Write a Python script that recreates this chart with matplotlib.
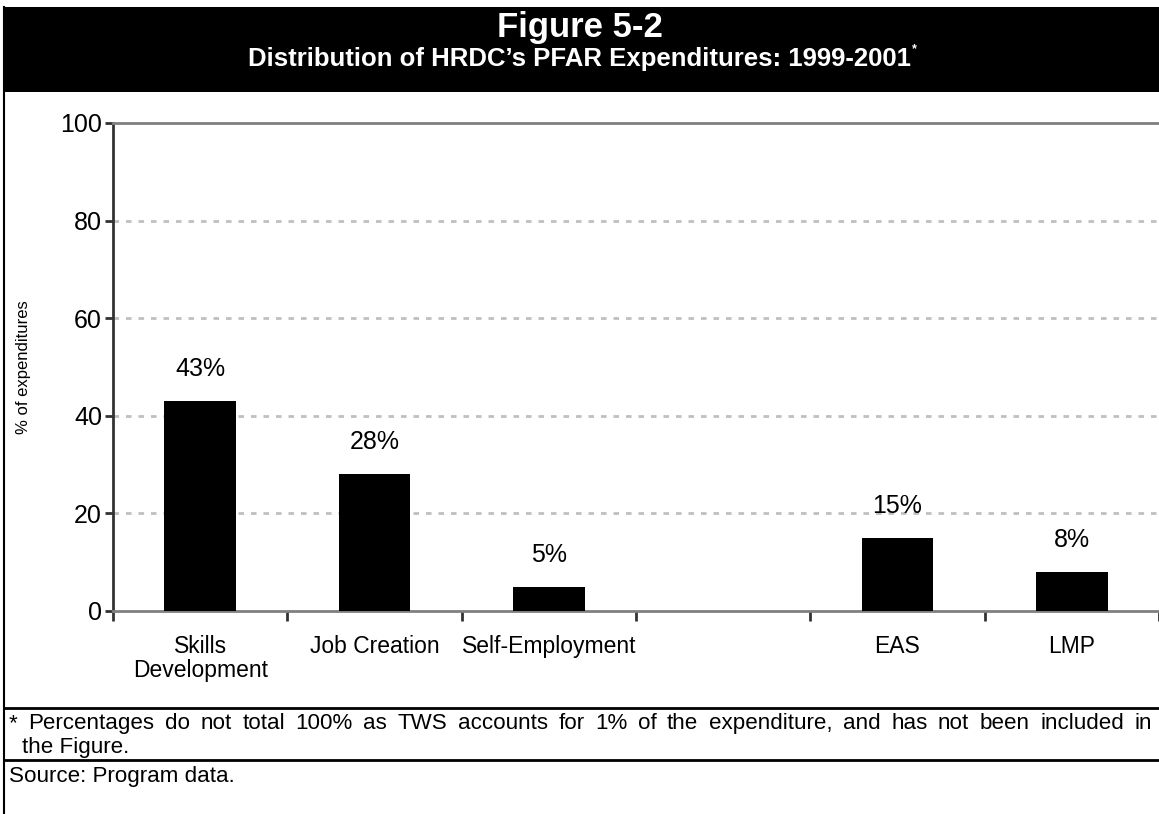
import numpy as np
import matplotlib
matplotlib.use("Agg")
import matplotlib.pyplot as plt
from matplotlib.patches import Rectangle
from matplotlib.lines import Line2D

plt.rcParams['font.family'] = ['Liberation Sans', 'DejaVu Sans']

# Programme categories (empty slot keeps the gap before EAS)
categories = ["Skills\nDevelopment", "Job Creation", "Self-Employment", "", "EAS", "LMP"]
shares = [43, 28, 5, None, 15, 8]
bar_labels = ["43%", "28%", "5%", "", "15%", "8%"]
yticks = [0, 20, 40, 60, 80, 100]

title = "Figure 5-2"
subtitle = "Distribution of HRDC\u2019s PFAR Expenditures: 1999-2001"
footnote_line1 = "* Percentages do not total 100% as TWS accounts for 1% of the expenditure, and has not been included in"
footnote_line2 = "the Figure."
source = "Source: Program data."

W, H = 1159, 814
fig = plt.figure(figsize=(W / 100, H / 100), dpi=100)


def fx(px):
    return px / W


def fy(py):
    return 1 - py / H


# Header band
fig.patches.append(Rectangle((fx(4), fy(92)), 1 - fx(4), fy(7) - fy(92),
                             transform=fig.transFigure, facecolor="black",
                             edgecolor="none", zorder=0))
fig.text(0.5, fy(27), title, color="white", fontsize=25, fontweight="bold",
         ha="center", va="center")
sub = fig.text(0.5, fy(59), subtitle, color="white", fontsize=18.5, fontweight="bold",
               ha="center", va="center")
fig.canvas.draw()
renderer = fig.canvas.get_renderer()
bb = sub.get_window_extent(renderer)
fig.text(bb.x1 / W + 0.001, fy(49), "*", color="white", fontsize=9,
         fontweight="bold", ha="left", va="center")

# Frame lines
fig.add_artist(Line2D([fx(3.5), fx(3.5)], [0, fy(7)], transform=fig.transFigure,
                      color="black", lw=1.5))
for yy in (708, 760):
    fig.add_artist(Line2D([fx(3.5), 1], [fy(yy), fy(yy)], transform=fig.transFigure,
                          color="black", lw=2))

# Chart
ax = fig.add_axes([fx(113), fy(611), 1 - fx(113), fy(123) - fy(611)])
x = np.arange(len(categories))
for xi, v, lab in zip(x, shares, bar_labels):
    if v is None:
        continue
    ax.bar(xi, v, width=0.41, color="black", zorder=3)
    ax.annotate(lab, (xi, v), xytext=(0, 23), textcoords="offset points",
                ha="center", va="center", fontsize=18)

ax.set_xlim(-0.5, len(categories) - 0.5)
ax.set_ylim(0, 100)
ax.set_yticks(yticks)
ax.set_yticklabels([str(t) for t in yticks], fontsize=18)
ax.set_xticks(x)
ax.set_xticklabels(categories, fontsize=16.5, linespacing=1.05)
ax.set_xticks(np.arange(len(categories) + 1) - 0.5, minor=True)
ax.tick_params(axis="x", which="major", length=0, pad=17)
ax.tick_params(axis="x", which="minor", length=7, width=2, color="#333333", direction="out")
ax.tick_params(axis="y", length=6, width=2, color="#333333", direction="out", pad=2)

for t in (20, 40, 60, 80):
    ax.axhline(t, color="#c0c0c0", lw=2, linestyle=(0, (2, 2.5)), zorder=1)

ax.spines["right"].set_visible(False)
ax.spines["top"].set_color("#808080")
ax.spines["top"].set_linewidth(2)
ax.spines["bottom"].set_color("#808080")
ax.spines["bottom"].set_linewidth(2)
ax.spines["left"].set_color("#333333")
ax.spines["left"].set_linewidth(2)

ax.set_ylabel("% of expenditures", fontsize=12)
ax.yaxis.set_label_coords((24 - 113) / (W - 113), 0.5)
ax.yaxis.label.set_va("center")

# Footnote: size chosen so the first line nearly fills the box, then justified
x0, x1 = 9, 1152
probe = fig.text(0, 0, footnote_line1, fontsize=10)
natural = probe.get_window_extent(renderer).width
probe.remove()
note_size = 10 * 0.93 * (x1 - x0) / natural


def justified(text, y, size):
    """Lay out one line of words spread evenly between x0 and x1 (pixels)."""
    words = text.split(" ")
    arts = [fig.text(0, fy(y), w, fontsize=size, ha="left", va="baseline") for w in words]
    widths = [a.get_window_extent(renderer).width for a in arts]
    gap = (x1 - x0 - sum(widths)) / (len(words) - 1)
    pos = x0
    for a, w in zip(arts, widths):
        a.set_x(fx(pos))
        pos += w + gap


justified(footnote_line1, 729, note_size)
fig.text(fx(22), fy(753), footnote_line2, fontsize=note_size, ha="left", va="baseline")
fig.text(fx(9), fy(782), source, fontsize=note_size, ha="left", va="baseline")

fig.savefig("out.png", dpi=100)
